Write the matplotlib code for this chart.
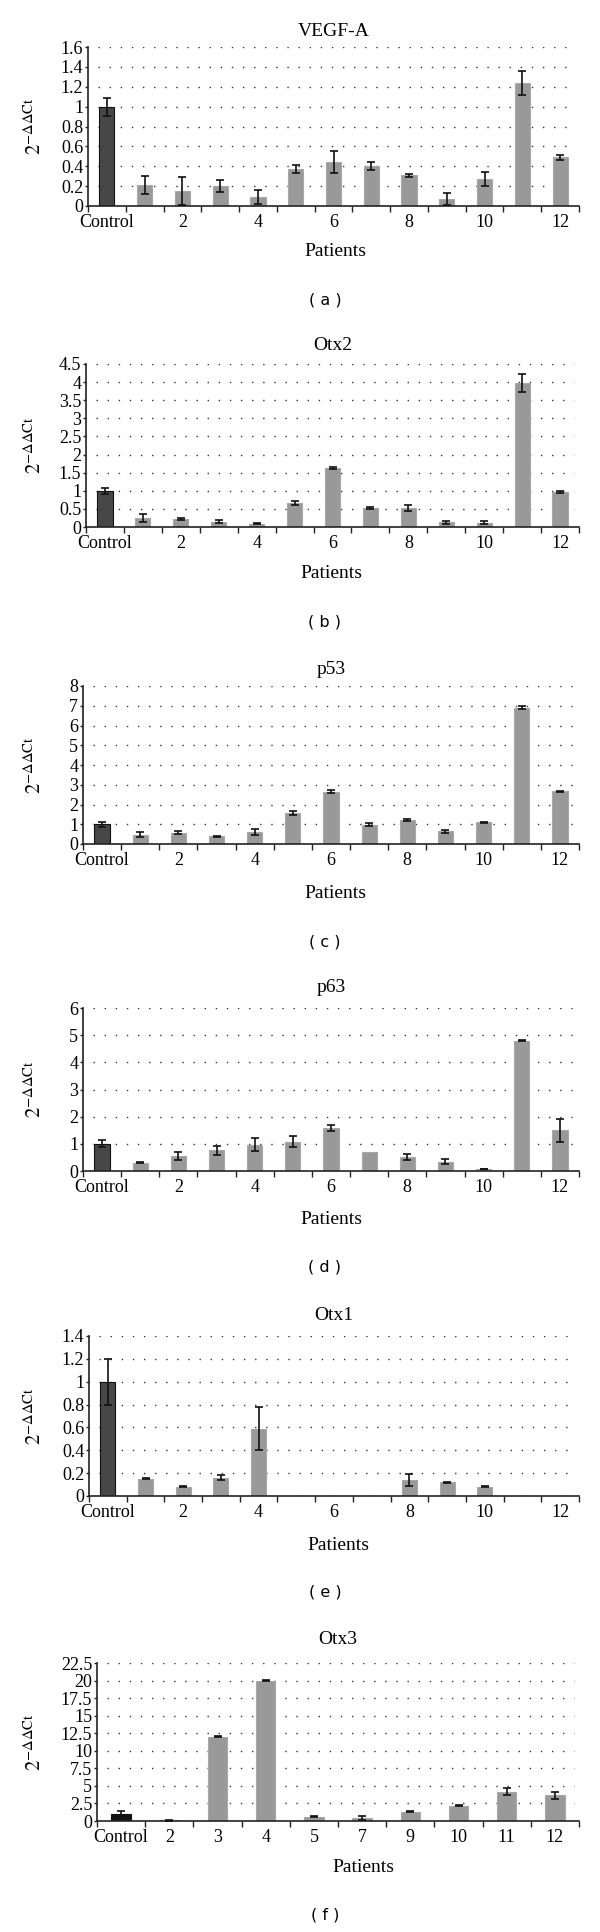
import matplotlib
matplotlib.use('Agg')
import matplotlib.pyplot as plt
import numpy as np

plt.rcParams['font.family'] = ['Liberation Serif', 'DejaVu Serif']
plt.rcParams['mathtext.fontset'] = 'stix'

# ---- data ----
patients = ['Control', '1', '2', '3', '4', '5', '6', '7', '8', '9', '10', '11', '12']
otx3_patients = ['Control', '2', '3', '4', '5', '7', '9', '10', '11', '12']

vegfa_vals = [1.0, 0.21, 0.15, 0.20, 0.09, 0.37, 0.44, 0.40, 0.31, 0.07, 0.27, 1.24, 0.49]
vegfa_err = [0.09, 0.09, 0.14, 0.06, 0.07, 0.04, 0.11, 0.04, 0.015, 0.06, 0.07, 0.12, 0.025]

otx2_vals = [1.0, 0.25, 0.22, 0.15, 0.09, 0.66, 1.63, 0.52, 0.52, 0.13, 0.12, 3.98, 0.97]
otx2_err = [0.08, 0.11, 0.04, 0.05, 0.01, 0.06, 0.015, 0.02, 0.08, 0.04, 0.05, 0.25, 0.03]

p53_vals = [1.0, 0.48, 0.58, 0.38, 0.60, 1.58, 2.65, 0.98, 1.20, 0.65, 1.10, 6.90, 2.67]
p53_err = [0.12, 0.11, 0.08, 0.03, 0.15, 0.10, 0.07, 0.06, 0.06, 0.08, 0.03, 0.07, 0.02]

p63_vals = [1.0, 0.30, 0.55, 0.76, 0.97, 1.08, 1.58, 0.70, 0.52, 0.34, 0.07, 4.80, 1.50]
p63_err = [0.13, 0.02, 0.14, 0.16, 0.25, 0.20, 0.10, 0.0, 0.12, 0.09, 0.01, 0.01, 0.43]

otx1_vals = [1.0, 0.15, 0.08, 0.16, 0.59, 0.0, 0.0, 0.0, 0.14, 0.12, 0.08, 0.0, 0.0]
otx1_err = [0.20, 0.004, 0.004, 0.02, 0.19, 0.0, 0.0, 0.0, 0.05, 0.004, 0.004, 0.0, 0.0]

otx3_vals = [1.0, 0.10, 12.0, 20.0, 0.60, 0.45, 1.35, 2.20, 4.20, 3.70]
otx3_err = [0.45, 0.03, 0.08, 0.10, 0.05, 0.30, 0.07, 0.10, 0.50, 0.50]

W, H = 600, 1932
fig = plt.figure(figsize=(W / 100, H / 100), dpi=100)


def draw_panel(cats, vals, errs, title, ymax, ystep, letter, box, ctrl_color='#474747',
               every_other=True, title_y=0, pat_y=0, letter_y=0, pat_x=333):
    left, top, right, bottom = box
    ax = fig.add_axes([left / W, 1 - bottom / H, (right - left) / W, (bottom - top) / H])
    x = np.arange(len(cats))
    colors = [ctrl_color] + ['#999999'] * (len(cats) - 1)
    edges = ['#111111'] + ['#a8a8a8'] * (len(cats) - 1)
    ax.bar(x, vals, width=0.4, color=colors, edgecolor=edges, linewidth=0.8, zorder=2)
    vals = np.array(vals)
    errs = np.array(errs)
    m = errs > 0
    ax.errorbar(x[m], vals[m], yerr=errs[m], fmt='none', ecolor='#111111',
                elinewidth=1.2, capsize=2.8, capthick=1.2, zorder=3)

    ax.set_xlim(-0.5, len(cats) - 0.5)
    ax.set_ylim(0, ymax)
    yt = np.arange(0, ymax + ystep / 2, ystep)
    ax.set_yticks(yt)
    ax.set_yticklabels(['{:g}'.format(round(v, 2)) for v in yt], fontsize=13)
    ax.set_xticks(x)
    if every_other:
        labels = [c if i % 2 == 0 else '' for i, c in enumerate(cats)]
    else:
        labels = cats
    ax.set_xticklabels(labels, fontsize=13)
    ax.set_xticks(np.arange(-0.5, len(cats)), minor=True)
    ax.tick_params(axis='x', which='major', length=0, pad=5.5)
    ax.tick_params(axis='x', which='minor', length=4, width=1, direction='out', color='#222222')
    ax.tick_params(axis='y', length=2.5, width=1, pad=1, direction='out', color='#222222')

    for s in ['top', 'right']:
        ax.spines[s].set_visible(False)
    for s in ['left', 'bottom']:
        ax.spines[s].set_linewidth(1.2)
        ax.spines[s].set_color('#222222')

    for v in yt[1:]:
        ax.axhline(v, xmin=0.02, xmax=0.99, color='#333333', linewidth=1.0,
                   linestyle=(0, (1, 7)), zorder=1)

    cx = (left + right) / 2
    fig.text(cx / W, 1 - title_y / H, title, ha='center', va='center', fontsize=14)
    fig.text(pat_x / W, 1 - pat_y / H, 'Patients', ha='center', va='center', fontsize=14)
    fig.text(35 / W, 1 - (top + bottom) / 2 / H, r'$2^{-\Delta\Delta\mathrm{Ct}}$',
             rotation=90, ha='center', va='center', fontsize=15)
    fig.text(325 / W, 1 - letter_y / H, '( %s )' % letter, ha='center', va='center',
             fontsize=11.5, family='DejaVu Sans')
    return ax


draw_panel(patients, vegfa_vals, vegfa_err, 'VEGF-A', 1.6, 0.2, 'a', (88, 47, 579, 206),
           title_y=32, pat_y=252, letter_y=300, pat_x=335)
draw_panel(patients, otx2_vals, otx2_err, 'Otx2', 4.5, 0.5, 'b', (86, 364, 579, 527),
           title_y=346, pat_y=574, letter_y=622, pat_x=331)
draw_panel(patients, p53_vals, p53_err, 'p53', 8, 1, 'c', (83, 686, 579, 844),
           title_y=669, pat_y=893, letter_y=942, pat_x=335)
draw_panel(patients, p63_vals, p63_err, 'p63', 6, 1, 'd', (83, 1008, 579, 1171),
           title_y=988, pat_y=1219, letter_y=1267, pat_x=331)
draw_panel(patients, otx1_vals, otx1_err, 'Otx1', 1.4, 0.2, 'e', (89, 1336, 579, 1496),
           title_y=1315, pat_y=1545, letter_y=1592, pat_x=338)
draw_panel(otx3_patients, otx3_vals, otx3_err, 'Otx3', 22.5, 2.5, 'f', (97, 1663, 579, 1821),
           ctrl_color='#111111', every_other=False,
           title_y=1639, pat_y=1868, letter_y=1915, pat_x=363)

fig.savefig('out.png', dpi=100)
